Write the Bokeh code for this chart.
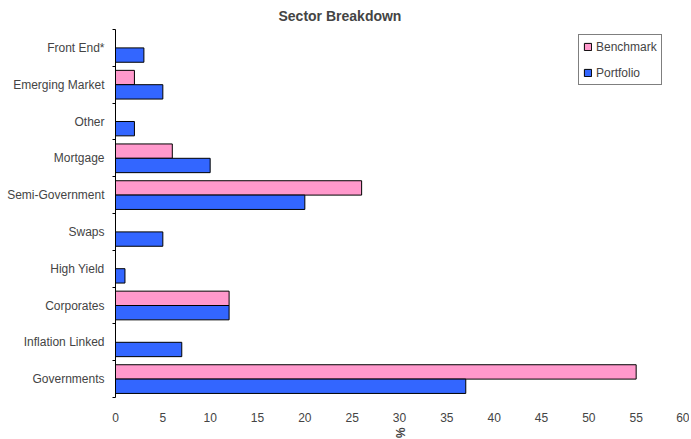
import numpy as np
from bokeh.plotting import figure
from bokeh.models import ColumnDataSource, FixedTicker, Range1d, Legend, LegendItem
from bokeh.embed import file_html
from bokeh.resources import INLINE

# Data (bottom to top)
categories = ["Governments", "Inflation Linked", "Corporates", "High Yield", "Swaps",
              "Semi-Government", "Mortgage", "Other", "Emerging Market", "Front End*"]
benchmark = [55, 0, 12, 0, 0, 26, 6, 0, 2, 0]
portfolio = [37, 7, 12, 1, 5, 20, 10, 2, 5, 3]
x_ticks = [0, 5, 10, 15, 20, 25, 30, 35, 40, 45, 50, 55, 60]

FONT = "Liberation Sans"
FW, FH = 568, 368

n = len(categories)
centers = np.arange(n) + 0.5
bh = 0.39

p = figure(frame_width=FW, frame_height=FH, output_backend="svg", toolbar_location=None,
           x_range=Range1d(0, 60), y_range=Range1d(0, n),
           min_border_left=115, min_border_right=6,
           min_border_top=29, min_border_bottom=40)
p.title.text = "Sector Breakdown"
p.title.align = "left"
p.title.offset = 163
p.title.text_font = FONT
p.title.text_font_size = "14px"
p.title.text_font_style = "bold"
p.title.standoff = 11
p.outline_line_color = None
p.xgrid.grid_line_color = None
p.ygrid.grid_line_color = None

src_b = ColumnDataSource(dict(y=centers + bh / 2, right=benchmark))
src_p = ColumnDataSource(dict(y=centers - bh / 2, right=portfolio))
rb = p.hbar(y="y", right="right", left=0, height=bh, source=src_b,
            fill_color="#FF99CC", line_color="black", line_width=1)
rp = p.hbar(y="y", right="right", left=0, height=bh, source=src_p,
            fill_color="#3366FF", line_color="black", line_width=1)

# x axis
xa = p.xaxis[0]
xa.ticker = FixedTicker(ticks=x_ticks)
xa.axis_line_color = None
xa.major_tick_line_color = None
xa.major_tick_out = 0
xa.major_tick_in = 0
xa.minor_tick_line_color = None
xa.major_label_text_font = FONT
xa.major_label_text_font_size = "12px"
xa.major_label_standoff = 15
xa.axis_label = "%"
xa.axis_label_text_font = FONT
xa.axis_label_text_font_size = "12px"
xa.axis_label_text_font_style = "bold"
xa.axis_label_standoff = 3
try:
    xa.axis_label_orientation = "vertical"
except Exception:
    pass

# y axis: labels at centers, ticks at boundaries
ya = p.yaxis[0]
ya.ticker = FixedTicker(ticks=list(centers), minor_ticks=list(range(n + 1)))
ya.major_label_overrides = {float(c): cat for c, cat in zip(centers, categories)}
ya.major_tick_line_color = None
ya.major_tick_out = 0
ya.major_tick_in = 0
ya.minor_tick_line_color = "black"
ya.minor_tick_in = 0
ya.minor_tick_out = 3
ya.axis_line_color = "black"
ya.major_label_text_font = FONT
ya.major_label_text_font_size = "12px"
ya.major_label_standoff = 8

legend = Legend(items=[LegendItem(label="Benchmark", renderers=[rb]),
                       LegendItem(label="Portfolio", renderers=[rp])],
                location=(463, 312))
legend.label_text_font = FONT
legend.label_text_font_size = "12px"
legend.glyph_width = 9
legend.glyph_height = 9
legend.label_height = 15
legend.label_standoff = 4
legend.spacing = 11
legend.padding = 4
legend.margin = 0
legend.border_line_color = "black"
legend.border_line_width = 1
p.add_layout(legend)

open("out.html", "w").write(file_html(p, INLINE))
